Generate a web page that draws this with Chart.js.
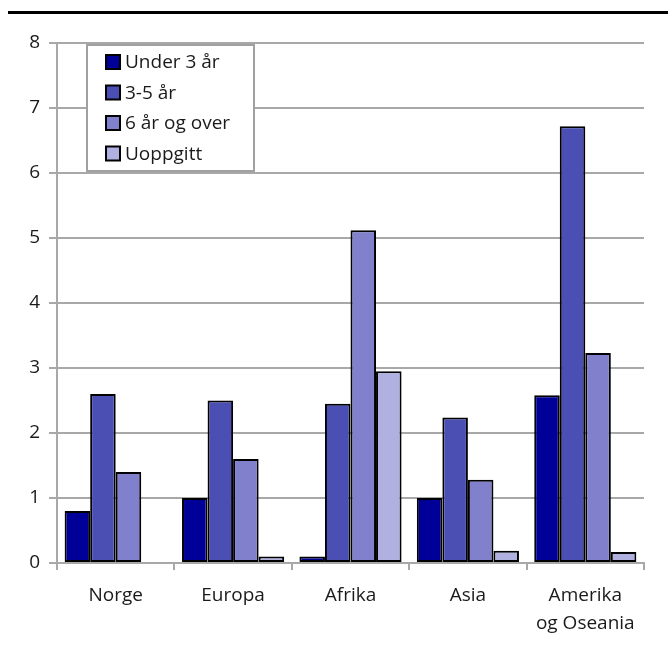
<!DOCTYPE html>
<html>
<head>
<meta charset="utf-8">
<script src="https://cdn.jsdelivr.net/npm/chart.js@4"></script>
<style>
  html, body { margin: 0; padding: 0; background: #fff; }
  #wrap { position: relative; width: 668px; height: 653px; }
  #topLine { position: absolute; left: 8px; right: 0; top: 11px; height: 3px; background: #000; }
  canvas { position: absolute; left: 0; top: 0; }
</style>
</head>
<body>
<div id="wrap">
  <canvas id="chart" width="668" height="653"></canvas>
  <div id="topLine"></div>
</div>
<script>
const regioner = ['Norge', 'Europa', 'Afrika', 'Asia', ['Amerika', 'og Oseania']];
const seriesNavn = ['Under 3 år', '3-5 år', '6 år og over', 'Uoppgitt'];
const under3 = [0.8, 1.0, 0.1, 1.0, 2.58];
const tre5 = [2.6, 2.5, 2.45, 2.24, 6.72];
const seksOver = [1.4, 1.6, 5.12, 1.28, 3.23];
const uoppgitt = [0, 0.1, 2.95, 0.19, 0.17];
const yTicks = [0, 1, 2, 3, 4, 5, 6, 7, 8];

const farger = ['#000099', '#4b4fb4', '#8080cc', '#b1b1e1'];
const FONT = '"Open Sans", "Noto Sans", sans-serif';
const grid = '#a8a8a8';
const tekst = '#1a1a1a';

// legend drawn as a framed box inside the plot area
const boxLegend = {
  id: 'boxLegend',
  afterDraw(chart) {
    const { ctx, chartArea } = chart;
    const x = chartArea.left + 30, y = chartArea.top + 2, w = 167, h = 126;
    ctx.save();
    ctx.fillStyle = '#fff';
    ctx.fillRect(x, y, w, h);
    ctx.strokeStyle = '#a0a0a0';
    ctx.lineWidth = 2;
    ctx.strokeRect(x, y, w, h);
    ctx.font = '19px ' + FONT;
    ctx.textBaseline = 'middle';
    chart.data.datasets.forEach((ds, i) => {
      const cy = y + 17 + i * 30.5;
      ctx.fillStyle = ds.backgroundColor;
      ctx.fillRect(x + 19, cy - 7, 14, 14);
      ctx.strokeStyle = '#000';
      ctx.lineWidth = 2;
      ctx.strokeRect(x + 19, cy - 7, 14, 14);
      ctx.fillStyle = tekst;
      ctx.fillText(ds.label, x + 38, cy + 1);
    });
    ctx.restore();
  }
};

const verdier = [under3, tre5, seksOver, uoppgitt];

new Chart(document.getElementById('chart'), {
  type: 'bar',
  data: {
    labels: regioner,
    datasets: seriesNavn.map((navn, i) => ({
      label: navn,
      data: verdier[i],
      backgroundColor: farger[i],
      borderColor: '#000',
      borderWidth: 2,
      borderSkipped: false,
      categoryPercentage: 0.87,
      barPercentage: 1.0
    }))
  },
  options: {
    responsive: false,
    animation: false,
    layout: { padding: { top: 43, right: 24, left: 0, bottom: 0 } },
    plugins: { legend: { display: false }, tooltip: { enabled: false } },
    scales: {
      x: {
        grid: { offset: true, drawOnChartArea: false, color: grid, lineWidth: 2, tickLength: 7 },
        border: { color: grid, width: 2 },
        ticks: { color: tekst, font: { family: FONT, size: 19, lineHeight: 1.47 }, padding: 12, maxRotation: 0 },
        afterFit(s) { s.height = 90; }
      },
      y: {
        min: 0, max: 8,
        afterBuildTicks(s) { s.ticks = yTicks.map(v => ({ value: v })); },
        grid: { color: grid, lineWidth: 2, tickLength: 8 },
        border: { color: grid, width: 2 },
        ticks: { color: tekst, font: { family: FONT, size: 19 }, padding: 9 },
        afterFit(s) { s.width = 57; }
      }
    }
  },
  plugins: [boxLegend]
});
</script>
</body>
</html>
